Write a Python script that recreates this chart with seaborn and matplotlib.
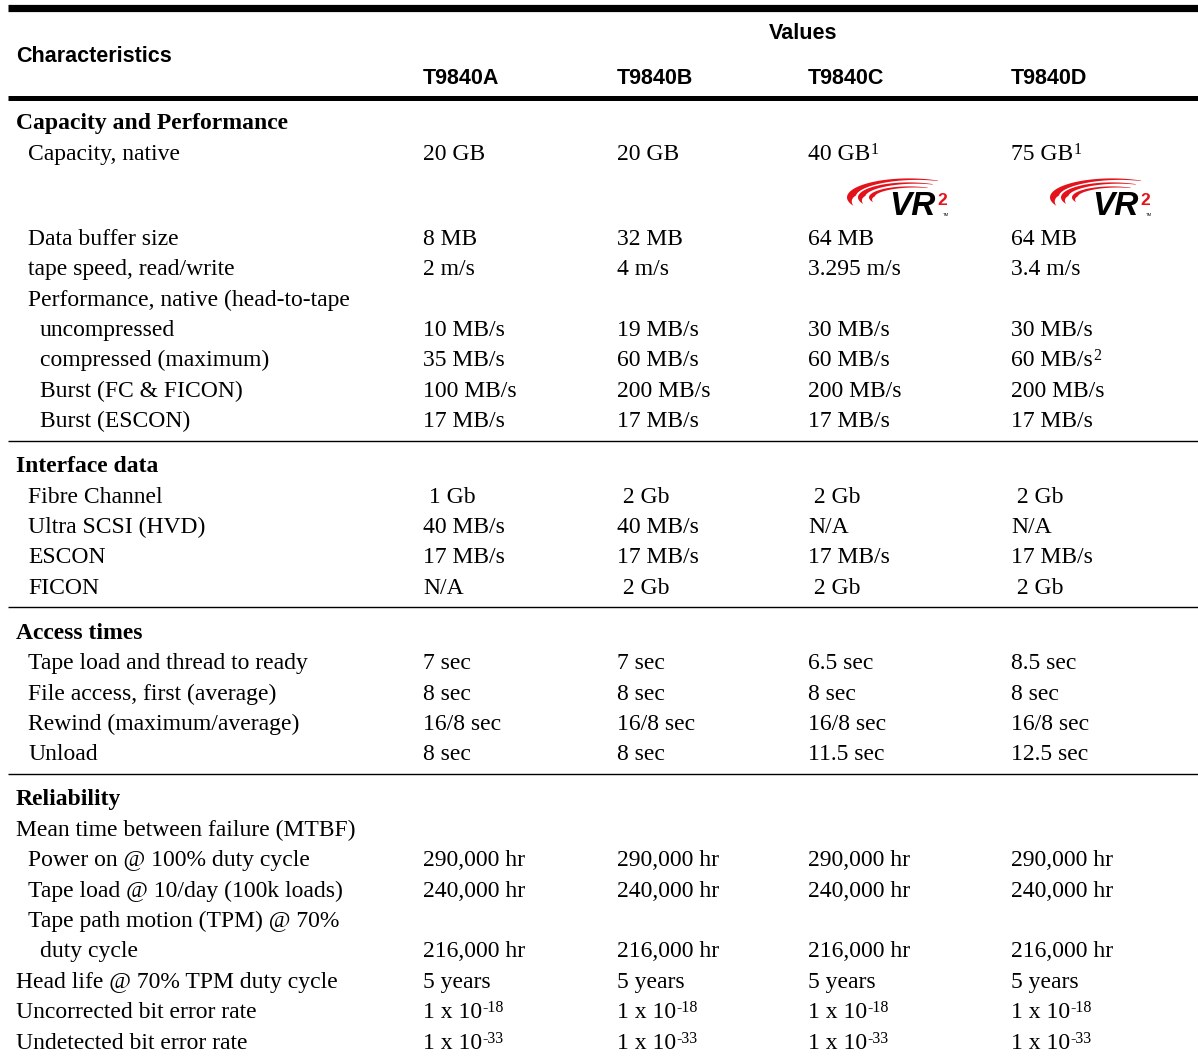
import matplotlib
matplotlib.use("Agg")
import numpy as np
import matplotlib.pyplot as plt
import seaborn as sns

sns.set_theme(style="white")
plt.rcParams["font.family"] = ["Liberation Serif", "DejaVu Serif"]
plt.rcParams["text.color"] = "black"

# ---------------- data ----------------
models = ["T9840A", "T9840B", "T9840C", "T9840D"]
header_left = "Characteristics"
header_group = "Values"

sec_titles = ["Capacity and Performance", "Interface data", "Access times", "Reliability"]

cap_labels = ["Capacity, native", "Data buffer size", "tape speed, read/write",
              "Performance, native (head-to-tape", "uncompressed", "compressed (maximum)",
              "Burst (FC & FICON)", "Burst (ESCON)"]
cap_level = [1, 1, 1, 1, 2, 2, 2, 2]
cap_A = ["20 GB", "8 MB", "2 m/s", "", "10 MB/s", "35 MB/s", "100 MB/s", "17 MB/s"]
cap_B = ["20 GB", "32 MB", "4 m/s", "", "19 MB/s", "60 MB/s", "200 MB/s", "17 MB/s"]
cap_C = ["40 GB^1", "64 MB", "3.295 m/s", "", "30 MB/s", "60 MB/s", "200 MB/s", "17 MB/s"]
cap_D = ["75 GB^1", "64 MB", "3.4 m/s", "", "30 MB/s", "60 MB/s^2", "200 MB/s", "17 MB/s"]

if_labels = ["Fibre Channel", "Ultra SCSI (HVD)", "ESCON", "FICON"]
if_level = [1, 1, 1, 1]
if_A = [" 1 Gb", "40 MB/s", "17 MB/s", "N/A"]
if_B = [" 2 Gb", "40 MB/s", "17 MB/s", " 2 Gb"]
if_C = [" 2 Gb", "N/A", "17 MB/s", " 2 Gb"]
if_D = [" 2 Gb", "N/A", "17 MB/s", " 2 Gb"]

acc_labels = ["Tape load and thread to ready", "File access, first (average)",
              "Rewind (maximum/average)", "Unload"]
acc_level = [1, 1, 1, 1]
acc_A = ["7 sec", "8 sec", "16/8 sec", "8 sec"]
acc_B = ["7 sec", "8 sec", "16/8 sec", "8 sec"]
acc_C = ["6.5 sec", "8 sec", "16/8 sec", "11.5 sec"]
acc_D = ["8.5 sec", "8 sec", "16/8 sec", "12.5 sec"]

rel_labels = ["Mean time between failure (MTBF)", "Power on @ 100% duty cycle",
              "Tape load @ 10/day (100k loads)", "Tape path motion (TPM) @ 70%",
              "duty cycle", "Head life @ 70% TPM duty cycle",
              "Uncorrected bit error rate", "Undetected bit error rate"]
rel_level = [0, 1, 1, 1, 2, 0, 0, 0]
rel_A = ["", "290,000 hr", "240,000 hr", "", "216,000 hr", "5 years", "1 x 10^-18", "1 x 10^-33"]
rel_B = ["", "290,000 hr", "240,000 hr", "", "216,000 hr", "5 years", "1 x 10^-18", "1 x 10^-33"]
rel_C = ["", "290,000 hr", "240,000 hr", "", "216,000 hr", "5 years", "1 x 10^-18", "1 x 10^-33"]
rel_D = ["", "290,000 hr", "240,000 hr", "", "216,000 hr", "5 years", "1 x 10^-18", "1 x 10^-33"]

vr2_models = ["T9840C", "T9840D"]   # models carrying the VR2 logo (after first row)

sections = [
    (sec_titles[0], cap_labels, cap_level, [cap_A, cap_B, cap_C, cap_D]),
    (sec_titles[1], if_labels, if_level, [if_A, if_B, if_C, if_D]),
    (sec_titles[2], acc_labels, acc_level, [acc_A, acc_B, acc_C, acc_D]),
    (sec_titles[3], rel_labels, rel_level, [rel_A, rel_B, rel_C, rel_D]),
]

# ---------------- layout / style ----------------
W, H = 1198, 1060
fig = plt.figure(figsize=(W / 100, H / 100), dpi=100)
ax = fig.add_axes([0, 0, 1, 1])
ax.set_xlim(0, W)
ax.set_ylim(H, 0)
ax.axis("off")

SANS = ["Liberation Sans", "DejaVu Sans"]
BODY = 17
HEAD = 15.5
SUP = 11.5
RED = "#e3121b"
col_x = [423, 617, 808, 1011]
indent_x = [16, 28, 40]
left = 8
step = 30.4
base_off = 7.5

def rule(y, lw):
    ax.plot([left, W], [y, y], color="black", lw=lw, solid_capstyle="butt")

def cell(x, y, s, **kw):
    parts = s.split("^")
    t = ax.text(x, y + base_off, parts[0], ha="left", va="baseline",
                fontsize=BODY, color="black", **kw)
    if len(parts) > 1:
        ax.annotate(parts[1], xy=(1, 1), xycoords=t, xytext=(0.5, 1.5),
                    textcoords="offset points", ha="left", va="top",
                    fontsize=SUP, color="black")
    return t

def crescent(cx, cy, a, b, tmax):
    phi = np.radians(np.linspace(62, 206, 120))
    deg = np.degrees(phi)
    t = np.where(deg > 172, tmax * (206 - deg) / 34,
                 0.8 + (tmax - 0.8) * (deg - 62) / 110)
    ox, oy = cx + a * np.cos(phi), cy - b * np.sin(phi)
    ix, iy = cx + (a - t) * np.cos(phi), cy - (b - t * 0.6) * np.sin(phi)
    xs = np.concatenate([ox, ix[::-1]])
    ys = np.concatenate([oy, iy[::-1]])
    ax.fill(xs, ys, color=RED, lw=0)

def vr2_logo(x0, y0):
    # x0: left edge of swooshes, y0: baseline of "VR"
    for a, b, dx, tmax in [(62, 19, 0, 8.5), (51, 15, 11, 7.0), (40, 11, 22, 5.5)]:
        crescent(x0 + dx + a, y0 - 18, a, b, tmax)
    ax.text(x0 + 42, y0, "VR", fontsize=24, fontweight="bold", fontstyle="italic",
            family=SANS, color="black", ha="left", va="baseline")
    ax.text(x0 + 90, y0 - 22, "2", fontsize=12.5, fontweight="bold",
            family=SANS, color=RED, ha="left", va="top")
    ax.text(x0 + 96, y0 + 1, "TM", fontsize=3, family=SANS, color="black",
            ha="left", va="baseline")

# header
rule(8, 5.2)
ax.text(803, 31, header_group, ha="center", va="center_baseline", fontsize=HEAD,
        fontweight="bold", family=SANS, color="black")
ax.text(16, 54, header_left, ha="left", va="center_baseline", fontsize=HEAD,
        fontweight="bold", family=SANS, color="black")
for x, m in zip(col_x, models):
    ax.text(x, 76, m, ha="left", va="center_baseline", fontsize=HEAD,
            fontweight="bold", family=SANS, color="black")
rule(97.5, 3.6)

# body
y = 122
for si, (title, labels, levels, cols) in enumerate(sections):
    if si > 0:
        y += 21
        rule(y, 1.0)
        y += 24
    cell(indent_x[0], y, title, fontweight="bold")
    for ri, (lab, lev) in enumerate(zip(labels, levels)):
        y += step
        cell(indent_x[lev], y, lab)
        for x, vals in zip(col_x, cols):
            if vals[ri]:
                cell(x, y, vals[ri])
        if si == 0 and ri == 0:
            for m in vr2_models:
                x = col_x[models.index(m)]
                vr2_logo(x + 39, y + 63)
            y += 54.5

fig.savefig("out.png", dpi=100)
